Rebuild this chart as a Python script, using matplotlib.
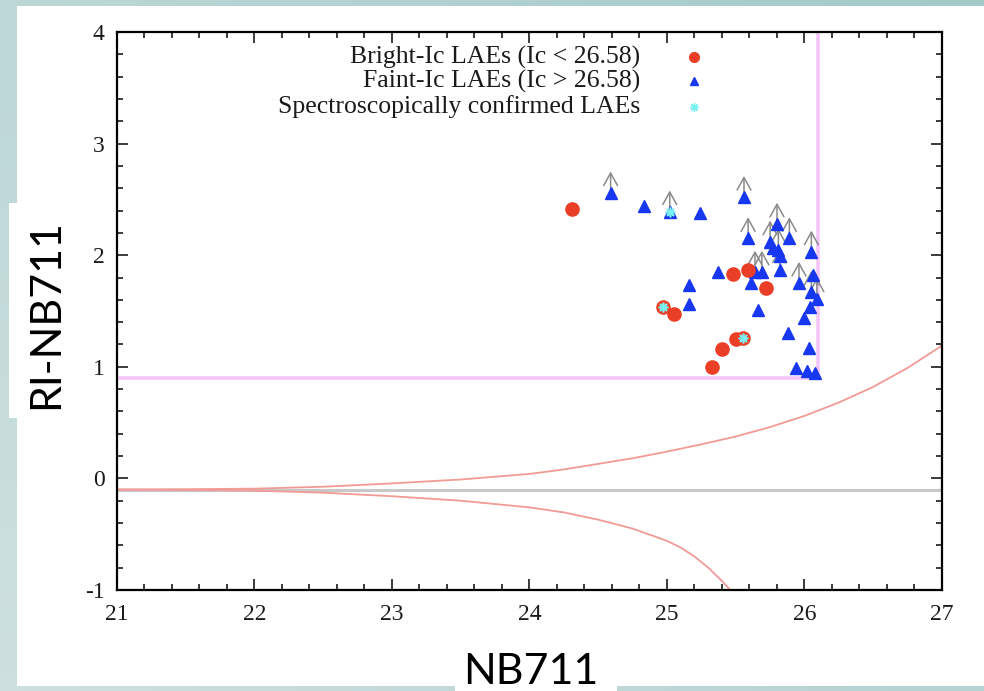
import matplotlib
matplotlib.use("Agg")
import matplotlib.pyplot as plt
import numpy as np
from matplotlib.patches import Rectangle
from matplotlib.ticker import MultipleLocator

plt.rcParams["axes.unicode_minus"] = False

# bright-Ic LAEs (NB711, RI-NB711)
bright_nb = [24.31, 25.48, 25.59, 25.72, 24.97, 25.05, 25.50, 25.55, 25.40, 25.33]
bright_col = [2.41, 1.83, 1.87, 1.71, 1.54, 1.47, 1.25, 1.26, 1.16, 1.00]

# faint-Ic LAEs, lim=True means a lower limit in colour (arrow)
faint_nb = [24.59, 24.83, 25.02, 25.24, 25.56, 25.80, 25.59, 25.75, 25.89, 25.77,
            25.81, 25.82, 26.05, 25.37, 25.64, 25.69, 25.82, 25.96, 26.06, 25.61,
            26.05, 26.09, 25.16, 25.16, 26.04, 25.66, 26.00, 25.88, 26.03, 25.94,
            26.02, 26.08]
faint_col = [2.56, 2.44, 2.39, 2.38, 2.52, 2.28, 2.15, 2.12, 2.15, 2.06,
             2.05, 1.99, 2.03, 1.85, 1.85, 1.85, 1.87, 1.75, 1.82, 1.75,
             1.67, 1.61, 1.73, 1.56, 1.54, 1.51, 1.44, 1.30, 1.17, 0.99,
             0.96, 0.94]
faint_lim = [True, False, True, False, True, True, True, True, True, False,
             True, False, True, False, True, True, True, True, False, False,
             True, True, False, False, False, False, False, False, False, False,
             False, False]

# spectroscopically confirmed objects
spec_nb = [24.97, 25.55, 25.02]
spec_col = [1.54, 1.26, 2.39]

# selection criteria
col_cut = 0.9
nb_cut = 26.1
col_zero = -0.1

# 3 sigma error curves
err_up_nb = [21.0, 21.5, 22.0, 22.5, 23.0, 23.5, 24.0, 24.25, 24.5, 24.75, 25.0,
             25.25, 25.5, 25.75, 26.0, 26.25, 26.5, 26.75, 27.0]
err_up_col = [-0.1, -0.097, -0.092, -0.075, -0.045, -0.01, 0.04, 0.08, 0.13, 0.18, 0.24,
              0.305, 0.375, 0.46, 0.56, 0.68, 0.82, 0.99, 1.19]
err_lo_nb = [21.0, 21.5, 22.0, 22.5, 23.0, 23.5, 24.0, 24.25, 24.5, 24.75, 25.0,
             25.1, 25.2, 25.3, 25.4, 25.46]
err_lo_col = [-0.1, -0.103, -0.11, -0.128, -0.16, -0.2, -0.26, -0.305, -0.37, -0.45, -0.56,
              -0.62, -0.70, -0.80, -0.92, -1.0]

legend_labels = ["Bright-Ic LAEs (Ic < 26.58)", "Faint-Ic LAEs (Ic > 26.58)",
                 "Spectroscopically confirmed LAEs"]

RED = "#ea3f26"
BLUE = "#1737f0"
CYAN = "#7af2f2"
PINK = "#f3c6f8"
SALMON = "#f29a95"
serif = ["Liberation Serif", "DejaVu Serif"]

fig = plt.figure(figsize=(9.84, 6.91), dpi=100)

# slide background
bg = fig.add_axes([0, 0, 1, 1], zorder=-10)
gx, gy = np.meshgrid(np.linspace(0, 1, 50), np.linspace(0, 1, 50))
bg.imshow(0.6 * gx + 0.4 * (1 - gy), cmap=matplotlib.colors.LinearSegmentedColormap.from_list(
    "bg", ["#cde0df", "#a3cac9"]), aspect="auto", extent=[0, 1, 0, 1])
bg.axis("off")
fig.add_artist(Rectangle((0.0173, 0.0072), 0.99, 0.984, transform=fig.transFigure,
                         facecolor="white", edgecolor="none", zorder=-5))
fig.add_artist(Rectangle((0.0091, 0.395), 0.03, 0.311, transform=fig.transFigure,
                         facecolor="white", edgecolor="none", zorder=-5))
fig.add_artist(Rectangle((0.4624, 0.0), 0.1646, 0.075, transform=fig.transFigure,
                         facecolor="white", edgecolor="none", zorder=-5))

ax = fig.add_axes([0.1189, 0.1462, 0.8384, 0.8075])
ax.set_xlim(21, 27)
ax.set_ylim(-1, 4)

ax.axhline(col_zero, color="#c8c8c8", lw=2.2, zorder=1)
ax.plot(err_up_nb, err_up_col, color=SALMON, lw=1.3, zorder=2)
ax.plot(err_lo_nb, err_lo_col, color=SALMON, lw=1.3, zorder=2)
ax.plot([21, nb_cut], [col_cut, col_cut], color=PINK, lw=2.6, zorder=2)
ax.plot([nb_cut, nb_cut], [col_cut, 4], color=PINK, lw=2.6, zorder=2)

for x, y, lim in zip(faint_nb, faint_col, faint_lim):
    if lim:
        ax.annotate("", xy=(x, y + 0.19), xytext=(x, y + 0.02),
                    arrowprops=dict(arrowstyle="->,head_length=0.9,head_width=0.5",
                                    color="#8a8a8a", lw=1.1, shrinkA=0, shrinkB=0),
                    zorder=3)

ax.plot(faint_nb, faint_col, ls="none", marker="^", ms=8.5, color=BLUE, mec=BLUE, zorder=4)
ax.plot(bright_nb, bright_col, ls="none", marker="o", ms=9.5, color=RED, mec=RED, zorder=5)
ax.plot(spec_nb, spec_col, ls="none", marker=(8, 2, 0), ms=7, color=CYAN, mew=1.2, zorder=6)

# key, gnuplot style
key_y = [0.955, 0.912, 0.866]
key_m = [dict(marker="o", ms=7, color=RED), dict(marker="^", ms=6, color=BLUE),
         dict(marker=(8, 2, 0), ms=6, color=CYAN, mew=1)]
for yy, lab, m in zip(key_y, legend_labels, key_m):
    ax.text(0.634, yy, lab, transform=ax.transAxes, ha="right", va="center",
            fontsize=18.5, family=serif, color="#1a1a1a")
    ax.plot([0.70], [yy], ls="none", transform=ax.transAxes, **m)

ax.xaxis.set_major_locator(MultipleLocator(1))
ax.xaxis.set_minor_locator(MultipleLocator(0.2))
ax.yaxis.set_major_locator(MultipleLocator(1))
ax.yaxis.set_minor_locator(MultipleLocator(0.2))
ax.tick_params(which="both", direction="in", top=True, right=True, width=1.2,
               labelsize=17, colors="#1a1a1a")
ax.tick_params(which="major", length=8)
ax.tick_params(which="minor", length=4)
ax.tick_params(axis="x", pad=10)
ax.tick_params(axis="y", pad=9)
for lab in ax.get_xticklabels() + ax.get_yticklabels():
    lab.set_family(serif)
for sp in ax.spines.values():
    sp.set_linewidth(1.6)

fig.text(0.5396, 0.028, "NB711", ha="center", va="center", fontsize=31,
         family=["Lato", "DejaVu Sans"])
fig.text(0.0473, 0.546, "RI-NB711", ha="center", va="center", fontsize=31,
         rotation=90, family=["Lato", "DejaVu Sans"])

fig.savefig("out.png", dpi=100)
